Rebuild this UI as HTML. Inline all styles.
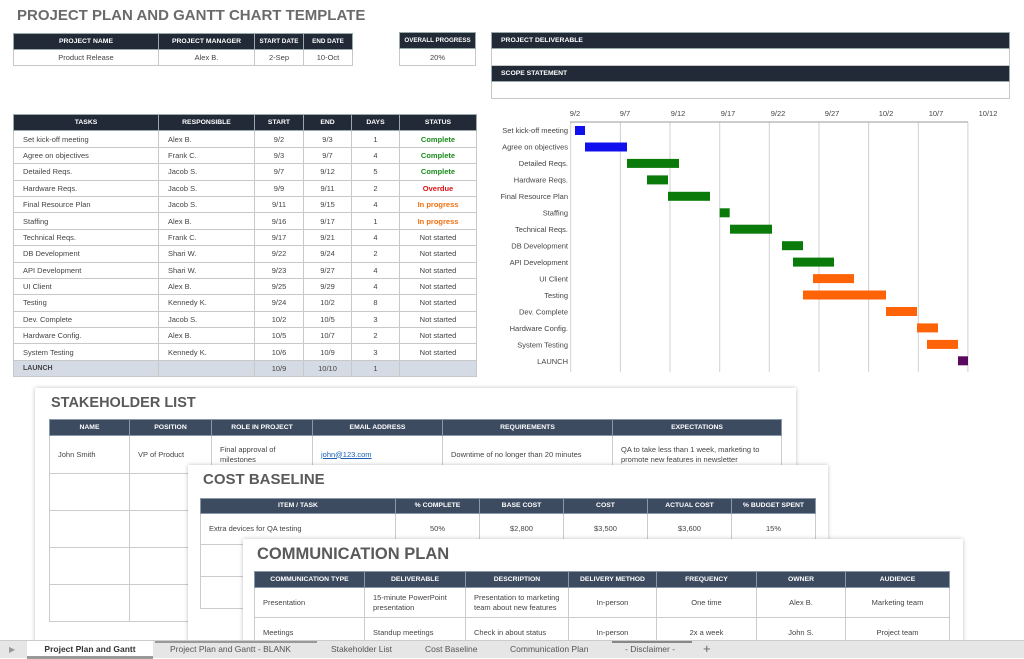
<!DOCTYPE html>
<html><head><meta charset="utf-8"><style>
*{margin:0;padding:0;box-sizing:border-box}
body{width:1024px;height:658px;overflow:hidden;background:#fff;font-family:"Liberation Sans",sans-serif;position:relative;color:#444}
.a{position:absolute}
table{border-collapse:collapse;position:absolute;table-layout:fixed}
td{border:1px solid #c8c8c8;font-size:7.5px;color:#444;overflow:hidden;white-space:nowrap}
.h td{background:#222a37;color:#fff;font-weight:bold;text-align:center;border-color:#9aa;font-size:6.8px}
.c{text-align:center}
.tt td{height:16.4px;padding-left:9px}
.tt td.c{padding-left:0}
.g{color:#1a8a1a;font-weight:bold}.r{color:#e01010;font-weight:bold}.o{color:#f07010;font-weight:bold}
.pan{position:absolute;background:#fff;box-shadow:0 0 4px rgba(0,0,0,.25)}
.pt{position:absolute;font-weight:bold;color:#5a5a5a;font-size:16px}
.bt td{border-color:#ccc;padding:0 8px;white-space:normal;line-height:10px}
.bt .h td{background:#3d4b61;border-color:#8898aa;font-size:6.8px;white-space:nowrap}
</style></head><body>
<div class="a" style="left:17px;top:7px;font-size:15px;font-weight:bold;color:#6a6a6a">PROJECT PLAN AND GANTT CHART TEMPLATE</div>

<table style="left:13px;top:33px;width:339px">
<colgroup><col style="width:145px"><col style="width:96px"><col style="width:49px"><col style="width:49px"></colgroup>
<tr class="h"><td style="height:16px">PROJECT NAME</td><td>PROJECT MANAGER</td><td style="font-size:6.3px">START DATE</td><td style="font-size:6.3px">END DATE</td></tr>
<tr><td class="c" style="height:16px">Product Release</td><td class="c">Alex B.</td><td class="c">2-Sep</td><td class="c">10-Oct</td></tr></table>

<table style="left:399px;top:32px;width:77px">
<tr class="h"><td style="height:16px;font-size:6.2px">OVERALL PROGRESS</td></tr><tr><td class="c" style="height:17px">20%</td></tr></table>

<table style="left:491px;top:32px;width:519px">
<tr class="h"><td style="height:16px;text-align:left;padding-left:9px">PROJECT DELIVERABLE</td></tr><tr><td style="height:17px"></td></tr>
<tr class="h"><td style="height:16px;text-align:left;padding-left:9px">SCOPE STATEMENT</td></tr><tr><td style="height:17px"></td></tr></table>

<table class="tt" style="left:13px;top:114px;width:463px">
<colgroup><col style="width:145px"><col style="width:96px"><col style="width:49px"><col style="width:48px"><col style="width:48px"><col style="width:77px"></colgroup>
<tr class="h"><td class="c">TASKS</td><td class="c">RESPONSIBLE</td><td class="c">START</td><td class="c">END</td><td class="c">DAYS</td><td class="c">STATUS</td></tr>
<tr><td>Set kick-off meeting</td><td>Alex B.</td><td class="c">9/2</td><td class="c">9/3</td><td class="c">1</td><td class="c g">Complete</td></tr>
<tr><td>Agree on objectives</td><td>Frank C.</td><td class="c">9/3</td><td class="c">9/7</td><td class="c">4</td><td class="c g">Complete</td></tr>
<tr><td>Detailed Reqs.</td><td>Jacob S.</td><td class="c">9/7</td><td class="c">9/12</td><td class="c">5</td><td class="c g">Complete</td></tr>
<tr><td>Hardware Reqs.</td><td>Jacob S.</td><td class="c">9/9</td><td class="c">9/11</td><td class="c">2</td><td class="c r">Overdue</td></tr>
<tr><td>Final Resource Plan</td><td>Jacob S.</td><td class="c">9/11</td><td class="c">9/15</td><td class="c">4</td><td class="c o">In progress</td></tr>
<tr><td>Staffing</td><td>Alex B.</td><td class="c">9/16</td><td class="c">9/17</td><td class="c">1</td><td class="c o">In progress</td></tr>
<tr><td>Technical Reqs.</td><td>Frank C.</td><td class="c">9/17</td><td class="c">9/21</td><td class="c">4</td><td class="c">Not started</td></tr>
<tr><td>DB Development</td><td>Shari W.</td><td class="c">9/22</td><td class="c">9/24</td><td class="c">2</td><td class="c">Not started</td></tr>
<tr><td>API Development</td><td>Shari W.</td><td class="c">9/23</td><td class="c">9/27</td><td class="c">4</td><td class="c">Not started</td></tr>
<tr><td>UI Client</td><td>Alex B.</td><td class="c">9/25</td><td class="c">9/29</td><td class="c">4</td><td class="c">Not started</td></tr>
<tr><td>Testing</td><td>Kennedy K.</td><td class="c">9/24</td><td class="c">10/2</td><td class="c">8</td><td class="c">Not started</td></tr>
<tr><td>Dev. Complete</td><td>Jacob S.</td><td class="c">10/2</td><td class="c">10/5</td><td class="c">3</td><td class="c">Not started</td></tr>
<tr><td>Hardware Config.</td><td>Alex B.</td><td class="c">10/5</td><td class="c">10/7</td><td class="c">2</td><td class="c">Not started</td></tr>
<tr><td>System Testing</td><td>Kennedy K.</td><td class="c">10/6</td><td class="c">10/9</td><td class="c">3</td><td class="c">Not started</td></tr>
<tr style="background:#d5dbe4"><td style="font-weight:bold;font-size:7px">LAUNCH</td><td></td><td class="c">10/9</td><td class="c">10/10</td><td class="c">1</td><td></td></tr>
</table>

<svg class="a" style="left:0;top:0" width="1024" height="390" font-family="Liberation Sans" font-size="7.5" fill="#444">
<g stroke="#d0d0d0" stroke-width="1">
<line x1="570.7" y1="122" x2="570.7" y2="372"/><line x1="620.4" y1="122" x2="620.4" y2="372"/><line x1="670" y1="122" x2="670" y2="372"/><line x1="719.7" y1="122" x2="719.7" y2="372"/><line x1="769.3" y1="122" x2="769.3" y2="372"/><line x1="819" y1="122" x2="819" y2="372"/><line x1="868.6" y1="122" x2="868.6" y2="372"/><line x1="918.3" y1="122" x2="918.3" y2="372"/><line x1="967.9" y1="122" x2="967.9" y2="372"/>
</g>
<line x1="570" y1="122" x2="968" y2="122" stroke="#999"/>
<g text-anchor="middle"><text x="575" y="116">9/2</text><text x="625" y="116">9/7</text><text x="678" y="116">9/12</text><text x="728" y="116">9/17</text><text x="778" y="116">9/22</text><text x="832" y="116">9/27</text><text x="886" y="116">10/2</text><text x="936" y="116">10/7</text><text x="988" y="116">10/12</text></g>
<g text-anchor="end">
<text x="568" y="133">Set kick-off meeting</text><text x="568" y="149.5">Agree on objectives</text><text x="568" y="166">Detailed Reqs.</text><text x="568" y="182.5">Hardware Reqs.</text><text x="568" y="199">Final Resource Plan</text><text x="568" y="215.5">Staffing</text><text x="568" y="232">Technical Reqs.</text><text x="568" y="248.5">DB Development</text><text x="568" y="265">API Development</text><text x="568" y="281.5">UI Client</text><text x="568" y="298">Testing</text><text x="568" y="314.5">Dev. Complete</text><text x="568" y="331">Hardware Config.</text><text x="568" y="347.5">System Testing</text><text x="568" y="364">LAUNCH</text></g>
<g fill="#1010ee"><rect x="575" y="126" width="10" height="9"/><rect x="585" y="142.5" width="42" height="9"/></g>
<g fill="#0a7a0a"><rect x="627" y="158.9" width="52" height="9"/><rect x="647" y="175.4" width="21" height="9"/><rect x="668" y="191.8" width="42" height="9"/><rect x="719.7" y="208.3" width="10" height="9"/><rect x="730" y="224.7" width="42" height="9"/><rect x="782" y="241.2" width="21" height="9"/><rect x="793" y="257.6" width="41" height="9"/></g>
<g fill="#ff6308"><rect x="813" y="274.1" width="41" height="9"/><rect x="803" y="290.5" width="83" height="9"/><rect x="886" y="307" width="31" height="9"/><rect x="917" y="323.4" width="21" height="9"/><rect x="927" y="339.9" width="31" height="9"/></g>
<rect x="958" y="356.3" width="10" height="9" fill="#5a0a5e"/>
</svg>

<div class="pan" style="left:35px;top:388px;width:761px;height:260px">
<div class="pt" style="left:16px;top:7px;font-size:14.5px">STAKEHOLDER LIST</div>
<table class="bt" style="left:14px;top:31px;width:732px">
<colgroup><col style="width:80px"><col style="width:82px"><col style="width:101px"><col style="width:130px"><col style="width:170px"><col style="width:169px"></colgroup>
<tr class="h"><td style="height:16px">NAME</td><td>POSITION</td><td>ROLE IN PROJECT</td><td>EMAIL ADDRESS</td><td>REQUIREMENTS</td><td>EXPECTATIONS</td></tr>
<tr><td style="height:38px">John Smith</td><td>VP of Product</td><td>Final approval of milestones</td><td style="color:#1a5fb4;text-decoration:underline">john@123.com</td><td>Downtime of no longer than 20 minutes</td><td>QA to take less than 1 week, marketing to promote new features in newsletter</td></tr>
<tr><td style="height:37px"></td><td></td><td></td><td></td><td></td><td></td></tr>
<tr><td style="height:37px"></td><td></td><td></td><td></td><td></td><td></td></tr>
<tr><td style="height:37px"></td><td></td><td></td><td></td><td></td><td></td></tr>
<tr><td style="height:37px"></td><td></td><td></td><td></td><td></td><td></td></tr>
</table></div>

<div class="pan" style="left:188px;top:465px;width:640px;height:180px">
<div class="pt" style="left:15px;top:6px;font-size:15px">COST BASELINE</div>
<table class="bt" style="left:12px;top:33px;width:615px">
<colgroup><col style="width:195px"><col style="width:84px"><col style="width:84px"><col style="width:84px"><col style="width:84px"><col style="width:84px"></colgroup>
<tr class="h"><td style="height:15px">ITEM / TASK</td><td>% COMPLETE</td><td>BASE COST</td><td>COST</td><td>ACTUAL COST</td><td>% BUDGET SPENT</td></tr>
<tr><td style="height:31px">Extra devices for QA testing</td><td class="c">50%</td><td class="c">$2,800</td><td class="c">$3,500</td><td class="c">$3,600</td><td class="c">15%</td></tr>
<tr><td style="height:32px"></td><td></td><td></td><td></td><td></td><td></td></tr>
<tr><td style="height:32px"></td><td></td><td></td><td></td><td></td><td></td></tr>
</table></div>

<div class="pan" style="left:243px;top:539px;width:720px;height:110px">
<div class="pt" style="left:14px;top:6px;font-size:16.5px">COMMUNICATION PLAN</div>
<table class="bt" style="left:11px;top:32px;width:695px">
<colgroup><col style="width:110px"><col style="width:101px"><col style="width:103px"><col style="width:88px"><col style="width:100px"><col style="width:89px"><col style="width:104px"></colgroup>
<tr class="h"><td style="height:16px">COMMUNICATION TYPE</td><td>DELIVERABLE</td><td>DESCRIPTION</td><td>DELIVERY METHOD</td><td>FREQUENCY</td><td>OWNER</td><td>AUDIENCE</td></tr>
<tr><td style="height:30px">Presentation</td><td>15-minute PowerPoint presentation</td><td>Presentation to marketing team about new features</td><td class="c">In-person</td><td class="c">One time</td><td class="c">Alex B.</td><td class="c">Marketing team</td></tr>
<tr><td style="height:30px">Meetings</td><td>Standup meetings</td><td>Check in about status</td><td class="c">In-person</td><td class="c">2x a week</td><td class="c">John S.</td><td class="c">Project team</td></tr>
</table></div>

<div class="a" style="left:0;top:640px;width:1024px;height:18px;background:#e6e6e6;border-top:1px solid #ccc;font-size:8.5px;color:#555">
<div class="a" style="left:9px;top:4px;font-size:8px;color:#999">&#9654;</div>
<div class="a" style="left:27px;top:0;width:126px;height:18px;background:#fff;border-bottom:3px solid #999;text-align:center;line-height:16px;font-weight:bold;color:#333">Project Plan and Gantt</div>
<div class="a" style="left:155px;top:0;width:162px;height:2px;background:#999"></div>
<div class="a" style="left:170px;top:3px">Project Plan and Gantt - BLANK</div>
<div class="a" style="left:331px;top:3px">Stakeholder List</div>
<div class="a" style="left:425px;top:3px">Cost Baseline</div>
<div class="a" style="left:510px;top:3px">Communication Plan</div>
<div class="a" style="left:612px;top:0;width:80px;height:2px;background:#888"></div>
<div class="a" style="left:625px;top:3px">- Disclaimer -</div>
<div class="a" style="left:703px;top:0px;font-size:13px;color:#666">+</div>
</div>
</body></html>
